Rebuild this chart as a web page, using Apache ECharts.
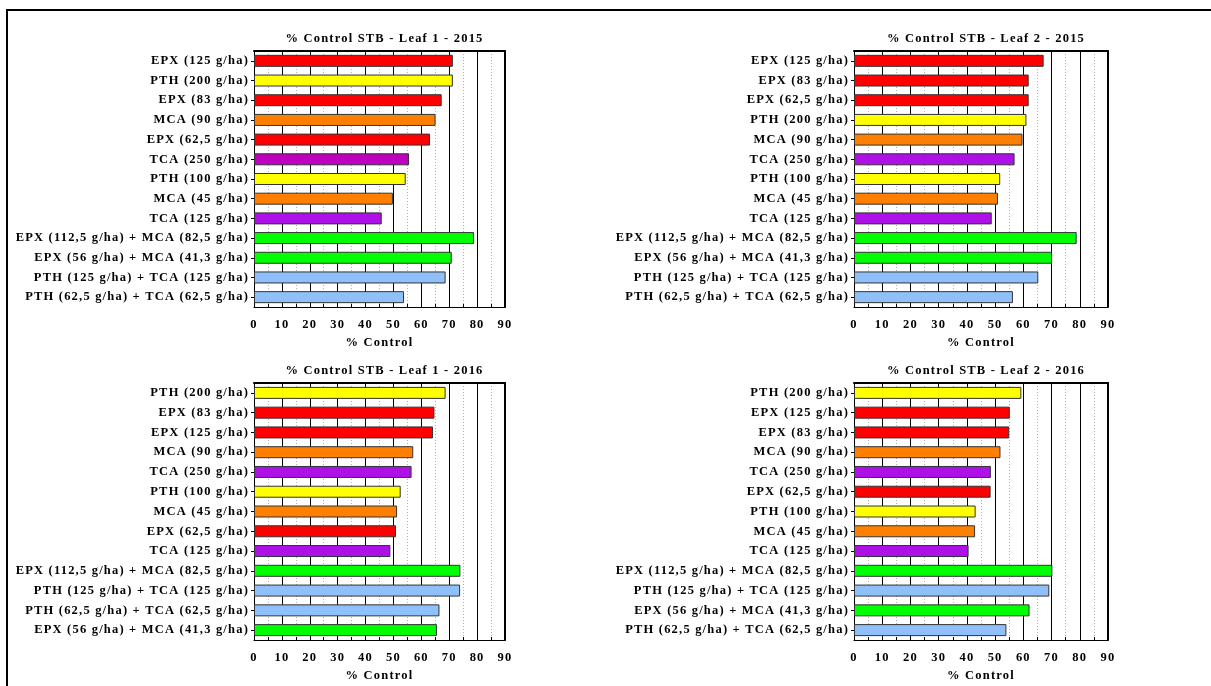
<!DOCTYPE html>
<html><head><meta charset="utf-8">
<script src="https://cdn.jsdelivr.net/npm/echarts@6/dist/echarts.min.js"></script>
<style>html,body{margin:0;padding:0;background:#fff}#c{width:1211px;height:686px}</style>
</head><body><div id="c"></div>
<script>
// ---------- DATA ----------
const titles = [
  '% Control STB - Leaf 1 - 2015',
  '% Control STB - Leaf 2 - 2015',
  '% Control STB - Leaf 1 - 2016',
  '% Control STB - Leaf 2 - 2016'
];
const catsL1_2015 = ['EPX (125 g/ha)','PTH (200 g/ha)','EPX (83 g/ha)','MCA (90 g/ha)','EPX (62,5 g/ha)','TCA (250 g/ha)','PTH (100 g/ha)','MCA (45 g/ha)','TCA (125 g/ha)','EPX (112,5 g/ha) + MCA (82,5 g/ha)','EPX (56 g/ha) + MCA (41,3 g/ha)','PTH (125 g/ha) + TCA (125 g/ha)','PTH (62,5 g/ha) + TCA (62,5 g/ha)'];
const valsL1_2015 = [71.3, 71.3, 67.3, 65.1, 63.1, 55.6, 54.4, 49.8, 45.8, 78.9, 70.9, 68.7, 53.8];

const catsL2_2015 = ['EPX (125 g/ha)','EPX (83 g/ha)','EPX (62,5 g/ha)','PTH (200 g/ha)','MCA (90 g/ha)','TCA (250 g/ha)','PTH (100 g/ha)','MCA (45 g/ha)','TCA (125 g/ha)','EPX (112,5 g/ha) + MCA (82,5 g/ha)','EPX (56 g/ha) + MCA (41,3 g/ha)','PTH (125 g/ha) + TCA (125 g/ha)','PTH (62,5 g/ha) + TCA (62,5 g/ha)'];
const valsL2_2015 = [67.2, 61.9, 61.9, 61.1, 59.7, 56.9, 51.8, 51.0, 48.8, 78.9, 70.2, 65.3, 56.3];

const catsL1_2016 = ['PTH (200 g/ha)','EPX (83 g/ha)','EPX (125 g/ha)','MCA (90 g/ha)','TCA (250 g/ha)','PTH (100 g/ha)','MCA (45 g/ha)','EPX (62,5 g/ha)','TCA (125 g/ha)','EPX (112,5 g/ha) + MCA (82,5 g/ha)','PTH (125 g/ha) + TCA (125 g/ha)','PTH (62,5 g/ha) + TCA (62,5 g/ha)','EPX (56 g/ha) + MCA (41,3 g/ha)'];
const valsL1_2016 = [68.7, 64.7, 64.2, 57.1, 56.5, 52.6, 51.3, 50.9, 48.9, 74.0, 73.9, 66.5, 65.6];

const catsL2_2016 = ['PTH (200 g/ha)','EPX (125 g/ha)','EPX (83 g/ha)','MCA (90 g/ha)','TCA (250 g/ha)','EPX (62,5 g/ha)','PTH (100 g/ha)','MCA (45 g/ha)','TCA (125 g/ha)','EPX (112,5 g/ha) + MCA (82,5 g/ha)','PTH (125 g/ha) + TCA (125 g/ha)','EPX (56 g/ha) + MCA (41,3 g/ha)','PTH (62,5 g/ha) + TCA (62,5 g/ha)'];
const valsL2_2016 = [59.3, 55.2, 55.0, 51.9, 48.5, 48.4, 43.1, 42.9, 40.6, 70.3, 69.2, 62.2, 54.0];

const xMin = 0, xMax = 90, xStep = 10;
const axisName = '% Control';

// ---------- STYLES ----------
const productColors = { EPX:'#ff0000', PTH:'#ffff00', MCA:'#ff8000', TCA:'#b010e8' };
const mixColors = { EPX:'#00ff00', PTH:'#90c0fa' };
const specialColors = { '0|TCA (250 g/ha)':'#c000c0' };
function colorFor(panel, cat){
  const key = panel + '|' + cat;
  if (specialColors[key]) return specialColors[key];
  const p = cat.slice(0,3);
  if (cat.indexOf('+') >= 0) return mixColors[p];
  return productColors[p];
}

// letter spacing like the original
(function(){
  const p = CanvasRenderingContext2D.prototype;
  const f = p.fillText, m = p.measureText;
  p.fillText = function(){ try{ this.letterSpacing = '1.2px'; }catch(e){} return f.apply(this, arguments); };
  p.measureText = function(){ try{ this.letterSpacing = '1.2px'; }catch(e){} return m.apply(this, arguments); };
})();

const FONT = 'Liberation Serif';
const FS = 12.5;
const panels = [
  {cats:catsL1_2015, vals:valsL1_2015, left:254, right:1211-505, top:51, height:256},
  {cats:catsL2_2015, vals:valsL2_2015, left:854, right:1211-1108, top:51, height:256},
  {cats:catsL1_2016, vals:valsL1_2016, left:254, right:1211-505, top:383, height:257},
  {cats:catsL2_2016, vals:valsL2_2016, left:854, right:1211-1108, top:383, height:257}
];

const grid = [], xAxis = [], yAxis = [], series = [], title = [];
panels.forEach((pn, i) => {
  grid.push({left:pn.left, right:pn.right, top:pn.top, height:pn.height, containLabel:false});
  const cx = pn.left + (1211 - pn.right - pn.left)/2;
  title.push({text:titles[i], left:cx, top:pn.top - 24, textAlign:'center',
    textStyle:{fontFamily:FONT, fontWeight:'bold', fontSize:FS, color:'#000'}});
  xAxis.push({
    type:'value', gridIndex:i, min:xMin, max:xMax, interval:xStep, position:'bottom',
    name:axisName, nameLocation:'middle', nameGap:29,
    nameTextStyle:{fontFamily:FONT, fontWeight:'bold', fontSize:FS, color:'#000'},
    axisLine:{show:true, lineStyle:{color:'#000', width:1}},
    axisTick:{show:true, inside:true, length:4, lineStyle:{color:'#000'}},
    minorTick:{show:true, splitNumber:2, length:3, lineStyle:{color:'#000'}},
    axisLabel:{fontFamily:FONT, fontWeight:'bold', fontSize:FS, color:'#000', margin:11},
    splitLine:{show:true, lineStyle:{color:'#000', width:1}},
    minorSplitLine:{show:true, lineStyle:{color:'#b0b0b0', width:1, type:[1,2]}}
  });
  xAxis.push({
    type:'value', gridIndex:i, min:xMin, max:xMax, position:'top',
    axisLine:{show:true, onZero:false, lineStyle:{color:'#000', width:2}},
    axisTick:{show:false}, axisLabel:{show:false}, splitLine:{show:false}
  });
  yAxis.push({
    type:'category', gridIndex:i, data:pn.cats, inverse:true,
    axisLine:{show:true, onZero:false, lineStyle:{color:'#000', width:1}},
    axisTick:{show:true, alignWithLabel:true, length:3, lineStyle:{color:'#000'}},
    axisLabel:{fontFamily:FONT, fontWeight:'bold', fontSize:FS, color:'#000', margin:5},
    splitLine:{show:false}
  });
  yAxis.push({
    type:'value', gridIndex:i, position:'right', min:0, max:1,
    axisLine:{show:true, onZero:false, lineStyle:{color:'#000', width:2}},
    axisTick:{show:false}, axisLabel:{show:false}, splitLine:{show:false}
  });
  series.push({
    type:'bar', xAxisIndex:2*i, yAxisIndex:2*i, barWidth:12,
    data: pn.vals.map((v, k) => ({value:v, itemStyle:{color:colorFor(i, pn.cats[k])}})),
    itemStyle:{borderColor:'#333', borderWidth:1},
    animation:false
  });
});

const chart = echarts.init(document.getElementById('c'), null, {renderer:'canvas'});
chart.setOption({
  animation:false,
  backgroundColor:'#fff',
  title, grid, xAxis, yAxis, series,
  graphic:[{type:'rect', shape:{x:7, y:10, width:1230, height:700},
    style:{fill:'none', stroke:'#000', lineWidth:2}, silent:true, z:100}]
});
</script></body></html>
